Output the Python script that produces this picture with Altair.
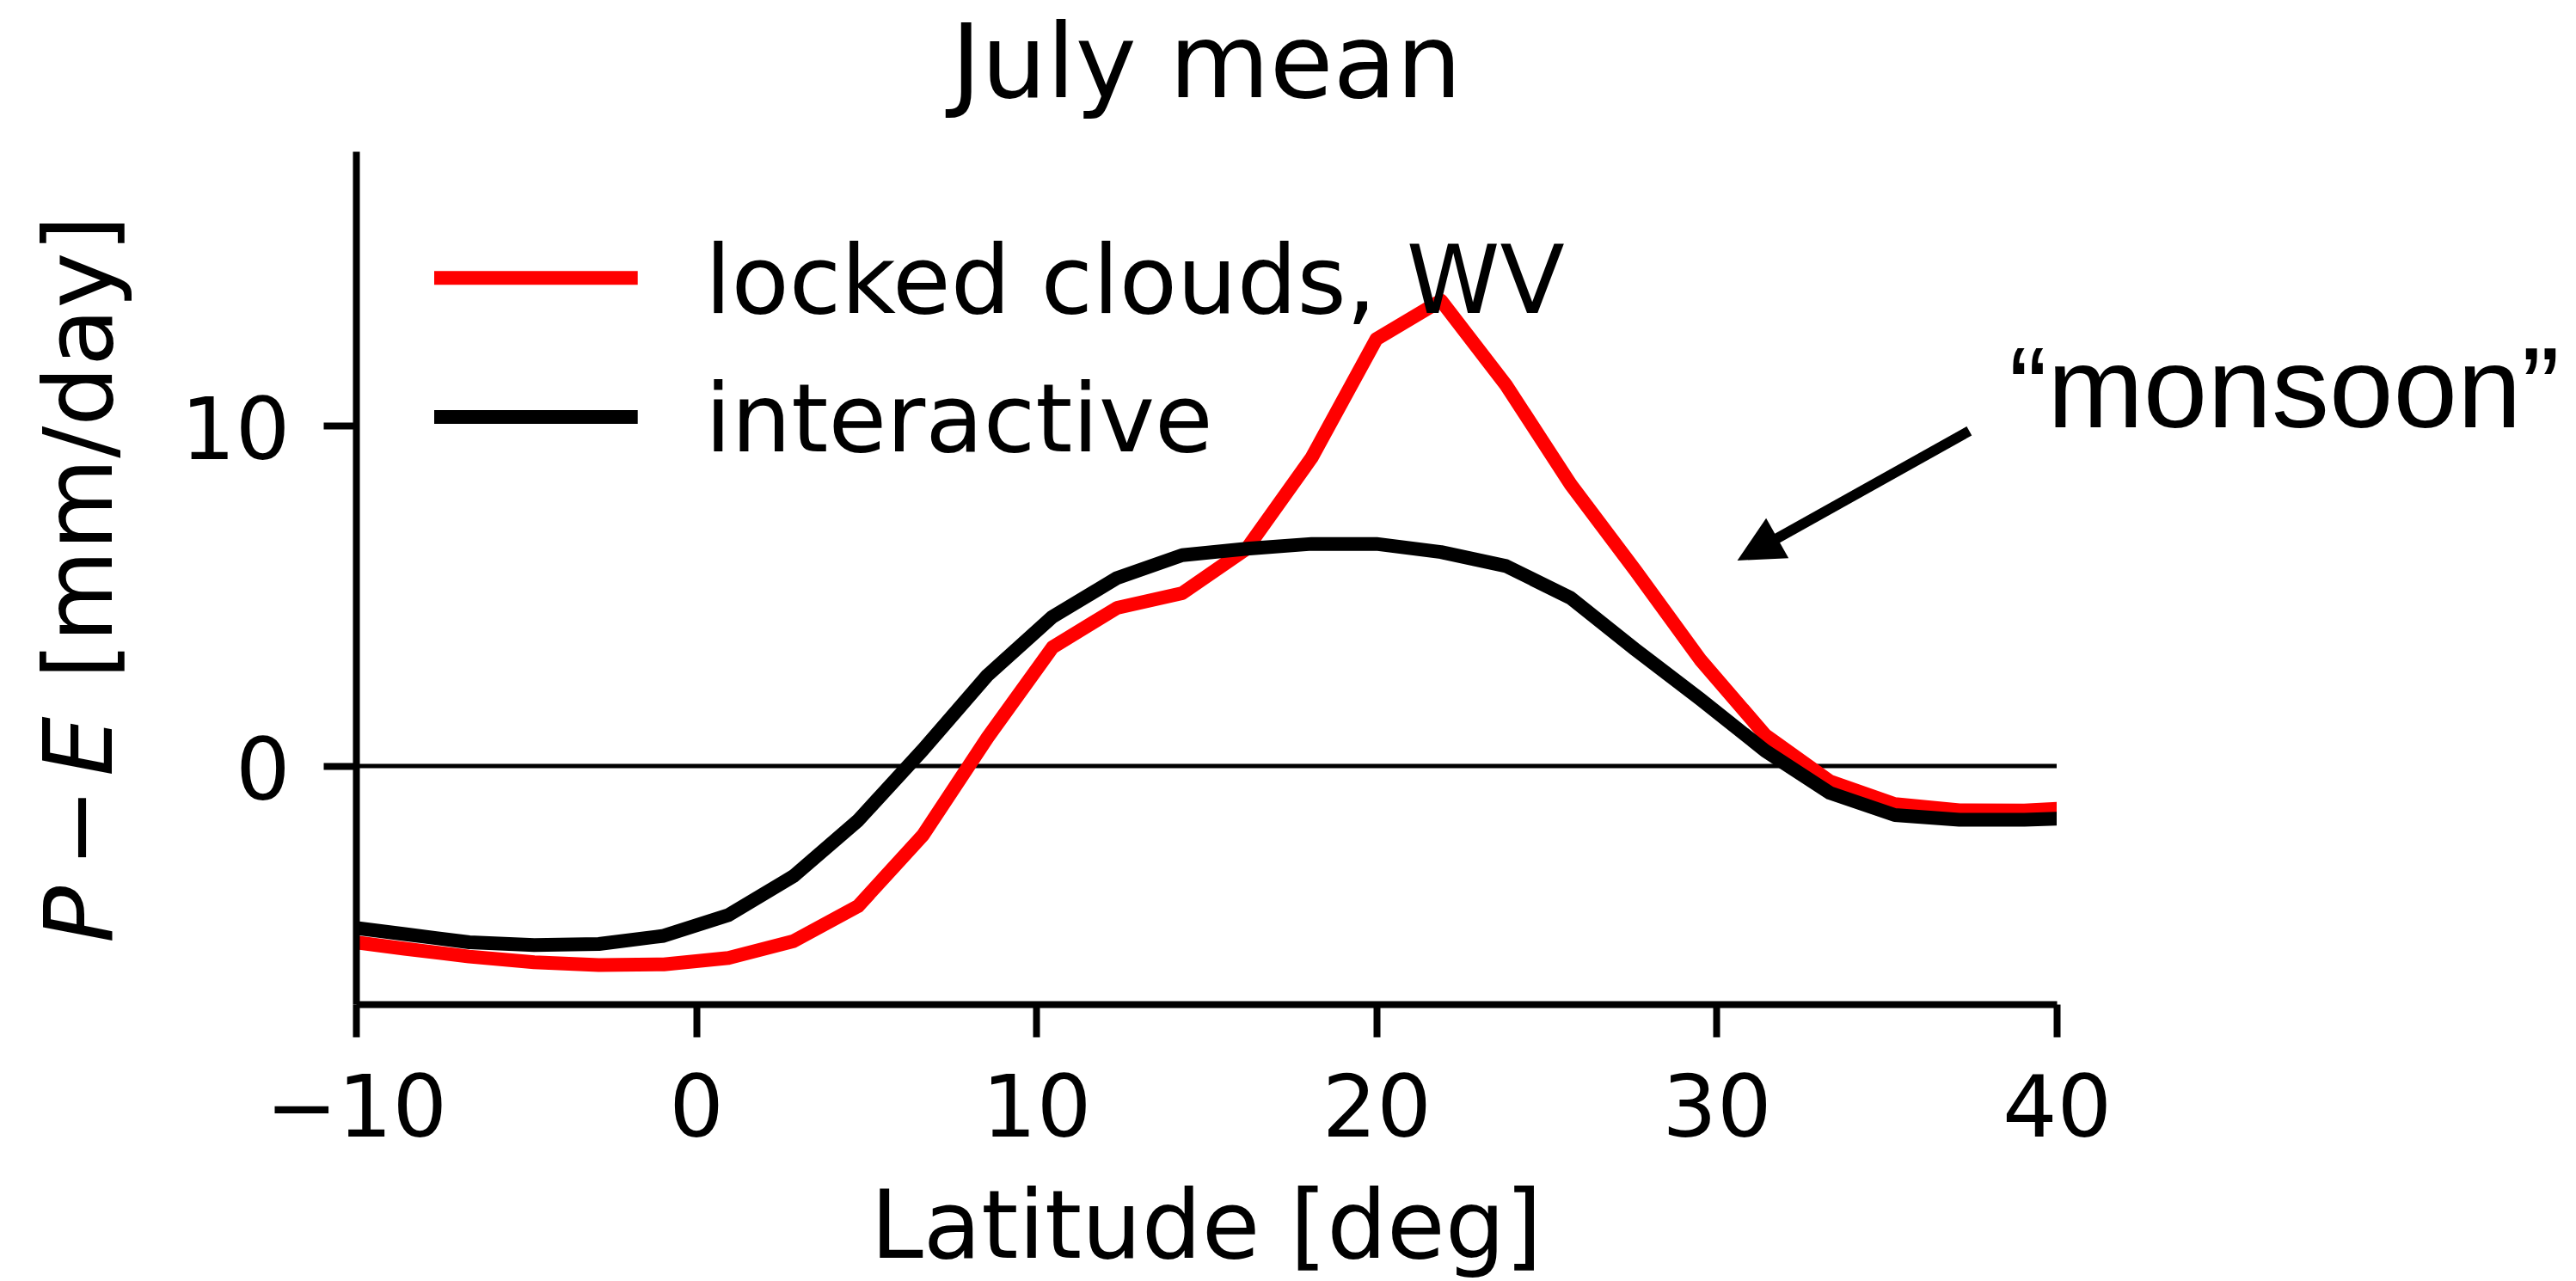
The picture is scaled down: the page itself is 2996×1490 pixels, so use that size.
import altair as alt
import pandas as pd

# Zonal-mean July P - E on the model's Gaussian latitudes
latitude = [-10.48, -8.57, -6.67, -4.76, -2.86, -0.95, 0.95, 2.86, 4.76, 6.67,
            8.57, 10.48, 12.38, 14.29, 16.19, 18.10, 20.00, 21.90, 23.81, 25.71,
            27.62, 29.52, 31.43, 33.33, 35.24, 37.14, 39.05, 40.95]
locked_clouds_wv = [-5.12, -5.37, -5.60, -5.77, -5.85, -5.83, -5.64, -5.15, -4.12, -2.03,
                    0.84, 3.49, 4.65, 5.08, 6.39, 9.07, 12.55, 13.68, 11.20, 8.28,
                    5.74, 3.13, 0.91, -0.45, -1.12, -1.30, -1.31, -1.21]
interactive = [-4.70, -4.94, -5.18, -5.26, -5.23, -4.99, -4.38, -3.24, -1.60, 0.48,
               2.67, 4.39, 5.53, 6.20, 6.39, 6.53, 6.53, 6.29, 5.88, 4.94,
               3.42, 1.97, 0.45, -0.79, -1.44, -1.58, -1.58, -1.52]
series_names = ["locked clouds, WV", "interactive"]

x_ticks = [-10, 0, 10, 20, 30, 40]
y_ticks = [0, 10]
x_domain = [-10, 40]
y_domain = [-7.0, 18.07]

title_text = ["July mean"]
x_title_text = ["Latitude [deg]"]
y_title_parts = ["P", "\u2212", "E", "[mm/day]"]
monsoon_text = ["\u201cmonsoon\u201d"]
monsoon_at = [38.6, 9.95]
arrow_from = [37.43, 9.85]
arrow_to = [31.20, 6.37]

W, H = 1978, 992
FONT = "DejaVu Sans"

x_scale = alt.Scale(domain=x_domain, nice=False, zero=False)
y_scale = alt.Scale(domain=y_domain, nice=False, zero=False)
x_axis = alt.Axis(values=x_ticks, title=None, grid=False, labelFlush=False,
                  labelOverlap=False, labelPadding=36, labelLimit=0, zindex=1)
y_axis = alt.Axis(values=y_ticks, title=None, grid=False, labelFlush=False,
                  labelOverlap=False, labelPadding=39, labelBaseline="middle",
                  labelOffset=8, labelLimit=0, zindex=1)


def xq(field):
    return alt.X(field, type="quantitative", scale=x_scale, axis=x_axis)


def yq(field):
    return alt.Y(field, type="quantitative", scale=y_scale, axis=y_axis)


df_red = pd.DataFrame({"lat": latitude, "pe": locked_clouds_wv})
df_black = pd.DataFrame({"lat": latitude, "pe": interactive})

zero_line = alt.Chart(pd.DataFrame({"y": [0.0]})).mark_rule(
    color="black", strokeWidth=5
).encode(y=yq("y"))

red_line = alt.Chart(df_red).mark_line(
    clip=True, color="#ff0000", strokeWidth=16, strokeJoin="round"
).encode(x=xq("lat"), y=yq("pe"))

black_line = alt.Chart(df_black).mark_line(
    clip=True, color="#000000", strokeWidth=16, strokeJoin="round"
).encode(x=xq("lat"), y=yq("pe"))

# legend drawn by hand: swatches and labels
legend_swatch_y = [147.3, 309.0]
legend_colors = ["#ff0000", "#000000"]
legend_layers = []
for name, col, yy in zip(series_names, legend_colors, legend_swatch_y):
    legend_layers.append(
        alt.Chart(pd.DataFrame({"s": [name]})).mark_rule(
            color=col, strokeWidth=16
        ).encode(x=alt.value(91), x2=alt.value(327.7), y=alt.value(yy))
    )
    legend_layers.append(
        alt.Chart(pd.DataFrame({"s": [name]})).mark_text(
            align="left", baseline="alphabetic", fontSize=110, font=FONT, color="black"
        ).encode(x=alt.value(406), y=alt.value(yy + 40.3), text="s:N")
    )

# annotation arrow and label
arrow_df = pd.DataFrame({"x0": [arrow_from[0]], "y0": [arrow_from[1]],
                         "x1": [arrow_to[0]], "y1": [arrow_to[1]]})
arrow_shaft = alt.Chart(arrow_df).mark_rule(
    color="black", strokeWidth=12
).encode(x=xq("x0"), y=yq("y0"), x2=alt.X2("x1"), y2=alt.Y2("y1"))
arrow_tip = alt.Chart(arrow_df).mark_point(
    shape="M0,-1L1,1L-1,1Z", filled=True, size=2850, angle=240.75,
    color="black", opacity=1, strokeWidth=0
).encode(x=xq("x1"), y=yq("y1"))

monsoon = alt.Chart(pd.DataFrame({"x": [monsoon_at[0]], "y": [monsoon_at[1]],
                                  "t": monsoon_text})).mark_text(
    align="left", baseline="alphabetic", fontSize=134, font="Liberation Sans",
    color="black"
).encode(x=xq("x"), y=yq("y"), text="t:N")

title = alt.Chart(pd.DataFrame({"t": title_text})).mark_text(
    align="center", baseline="alphabetic", fontSize=120, font=FONT, color="black"
).encode(x=alt.value(W / 2), y=alt.value(-62.7), text="t:N")

x_title = alt.Chart(pd.DataFrame({"t": x_title_text})).mark_text(
    align="center", baseline="alphabetic", fontSize=110, font=FONT, color="black"
).encode(x=alt.value(W / 2), y=alt.value(1287), text="t:N")

# y-axis title with italic P and E, set piece by piece
y_title_layers = []
for part, style, ypos in zip(y_title_parts, ["italic", "normal", "italic", "normal"],
                             [921, 833, 727, 614]):
    y_title_layers.append(
        alt.Chart(pd.DataFrame({"t": [part]})).mark_text(
            align="left", baseline="alphabetic", angle=270, fontSize=110,
            font=FONT, fontStyle=style, color="black"
        ).encode(x=alt.value(-284), y=alt.value(ypos), text="t:N")
    )

chart = alt.layer(
    zero_line, red_line, black_line, *legend_layers, arrow_shaft, arrow_tip,
    monsoon, title, x_title, *y_title_layers
).properties(
    width=W, height=H,
    autosize=alt.AutoSizeParams(type="none"),
    padding={"left": 414, "top": 176, "right": 604, "bottom": 322},
    background="white",
).configure_view(
    stroke=None
).configure_axis(
    domainColor="black", domainWidth=8, tickColor="black", tickWidth=8, tickSize=38,
    labelFont=FONT, labelFontSize=100, labelColor="black"
)

chart.save("out.html", embed_options={"renderer": "svg", "actions": False})
